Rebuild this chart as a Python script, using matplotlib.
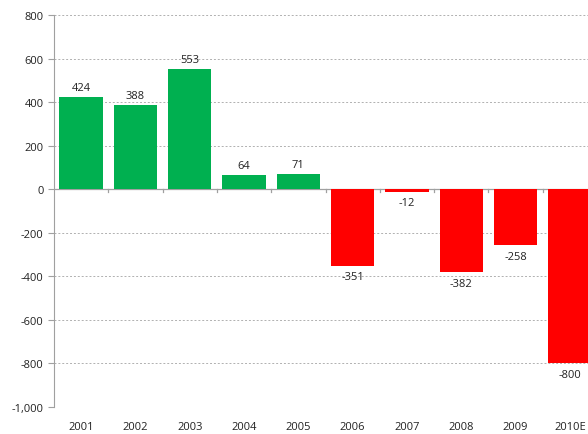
import matplotlib

matplotlib.use("Agg")
import matplotlib.pyplot as plt
from matplotlib.ticker import FuncFormatter

years = ["2001", "2002", "2003", "2004", "2005", "2006", "2007", "2008", "2009", "2010E"]
values = [424, 388, 553, 64, 71, -351, -12, -382, -258, -800]

GREEN = "#00B050"
RED = "#FF0000"

plt.rcParams["font.family"] = ["Open Sans", "DejaVu Sans"]

fig = plt.figure(figsize=(5.88, 4.35), dpi=100)
# axes runs slightly past the right edge, so the last bar is cut off like the reference
ax = fig.add_axes([54 / 588, 1 - 408 / 435, 543 / 588, 392 / 435])

x = list(range(len(years)))
colors = [GREEN if v >= 0 else RED for v in values]
ax.bar(x, values, width=0.8, color=colors, zorder=3)

for xi, v in zip(x, values):
    if v >= 0:
        ax.annotate(str(v), (xi, v), xytext=(0, 3), textcoords="offset points",
                    ha="center", va="bottom", fontsize=8, color="#222222")
    else:
        ax.annotate(str(v), (xi, v), xytext=(0, -4), textcoords="offset points",
                    ha="center", va="top", fontsize=8, color="#222222")

ax.set_xlim(-0.5, len(years) - 0.5)
ax.set_ylim(-1000, 800)
ax.set_yticks(range(-1000, 801, 200))
ax.yaxis.set_major_formatter(FuncFormatter(lambda v, _: f"{int(v):,}"))
ax.grid(axis="y", linestyle=(0, (2, 2)), color="#b0b0b0", linewidth=0.7, zorder=0)

# zero line with tick marks between categories
ax.axhline(0, color="#a0a0a0", linewidth=0.9, zorder=2)
for b in range(1, len(years)):
    ax.plot([b - 0.5, b - 0.5], [0, -12], color="#a0a0a0", linewidth=0.9, zorder=2,
            clip_on=False)

ax.set_xticks(x)
ax.set_xticklabels(years)
ax.tick_params(axis="x", length=0, pad=10, labelsize=8, labelcolor="#222222")
ax.tick_params(axis="y", length=4, color="#a0a0a0", labelsize=8, labelcolor="#222222")

for side in ("top", "right", "bottom"):
    ax.spines[side].set_visible(False)
ax.spines["left"].set_color("#a0a0a0")

fig.savefig("out.png", dpi=100)
